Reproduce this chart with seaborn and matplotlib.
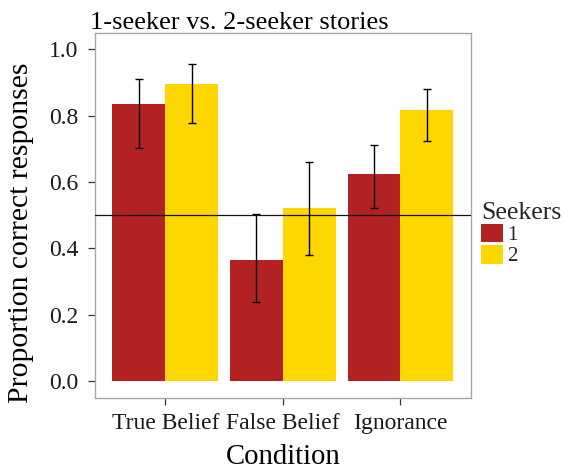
import matplotlib
matplotlib.use("Agg")
import matplotlib.pyplot as plt
import seaborn as sns
import pandas as pd
import numpy as np

conditions = ["True Belief", "False Belief", "Ignorance"]
seekers = ["1", "2"]
mean_1 = [0.834, 0.364, 0.624]
mean_2 = [0.896, 0.522, 0.817]
low_1 = [0.703, 0.239, 0.521]
high_1 = [0.912, 0.504, 0.713]
low_2 = [0.779, 0.380, 0.725]
high_2 = [0.956, 0.660, 0.879]
chance = 0.5
colors = ["#B22222", "#FFD700"]

df = pd.DataFrame({
    "Condition": conditions * 2,
    "Seekers": [seekers[0]] * 3 + [seekers[1]] * 3,
    "prop": mean_1 + mean_2,
    "lo": low_1 + low_2,
    "hi": high_1 + high_2,
})

sns.set_style("white")
plt.rcParams["font.family"] = ["Liberation Serif", "DejaVu Serif"]

fig = plt.figure(figsize=(5.64, 4.72), dpi=100)
ax = fig.add_axes([0.1679, 0.1574, 0.8351 - 0.1679, 0.9307 - 0.1574])

sns.barplot(data=df, x="Condition", y="prop", hue="Seekers", order=conditions,
            hue_order=seekers, palette=colors, width=0.9, gap=0, errorbar=None,
            saturation=1, ax=ax, linewidth=0)

for cont, lvl in zip(ax.containers, seekers):
    sub = df[df["Seekers"] == lvl].set_index("Condition").loc[conditions]
    xs = [p.get_x() + p.get_width() / 2 for p in cont.patches]
    ys = sub["prop"].values
    yerr = np.vstack([ys - sub["lo"].values, sub["hi"].values - ys])
    ax.errorbar(xs, ys, yerr=yerr, fmt="none", ecolor="black", elinewidth=1.0,
                capsize=2.8, capthick=1.0, zorder=3)

ax.axhline(chance, color="#111111", linewidth=0.9, zorder=4)

ax.set_xlim(-0.6, 2.6)
ax.set_ylim(-0.05, 1.05)
ax.set_yticks([0.0, 0.2, 0.4, 0.6, 0.8, 1.0])
ax.set_yticklabels(["0.0", "0.2", "0.4", "0.6", "0.8", "1.0"])

for s in ax.spines.values():
    s.set_color("#a6a6a6")
    s.set_linewidth(1.0)

ax.tick_params(axis="both", which="major", length=5, width=0.9, color="#333333",
               labelcolor="#1a1a1a", labelsize=17, direction="out", bottom=True, left=True)
ax.tick_params(axis="x", pad=6)
ax.tick_params(axis="y", pad=7)

ax.set_xlabel("Condition", fontsize=20.7, color="black")
ax.set_ylabel("Proportion correct responses", fontsize=21.3, color="black")
ax.xaxis.set_label_coords(0.5, -0.128)
ax.yaxis.set_label_coords(-0.16, 0.453)
ax.set_title("1-seeker vs. 2-seeker stories", fontsize=19, loc="left", x=-0.013, pad=3,
             color="black")

leg = ax.legend(title="Seekers", loc="upper left", bbox_to_anchor=(1.0, 0.566),
                frameon=False, fontsize=15, title_fontsize=18.5,
                handlelength=1.04, handleheight=1.0, handletextpad=0.18,
                labelspacing=0.0, borderaxespad=0.3, borderpad=0.2)
leg._legend_box.align = "left"

fig.savefig("out.png", dpi=100)
